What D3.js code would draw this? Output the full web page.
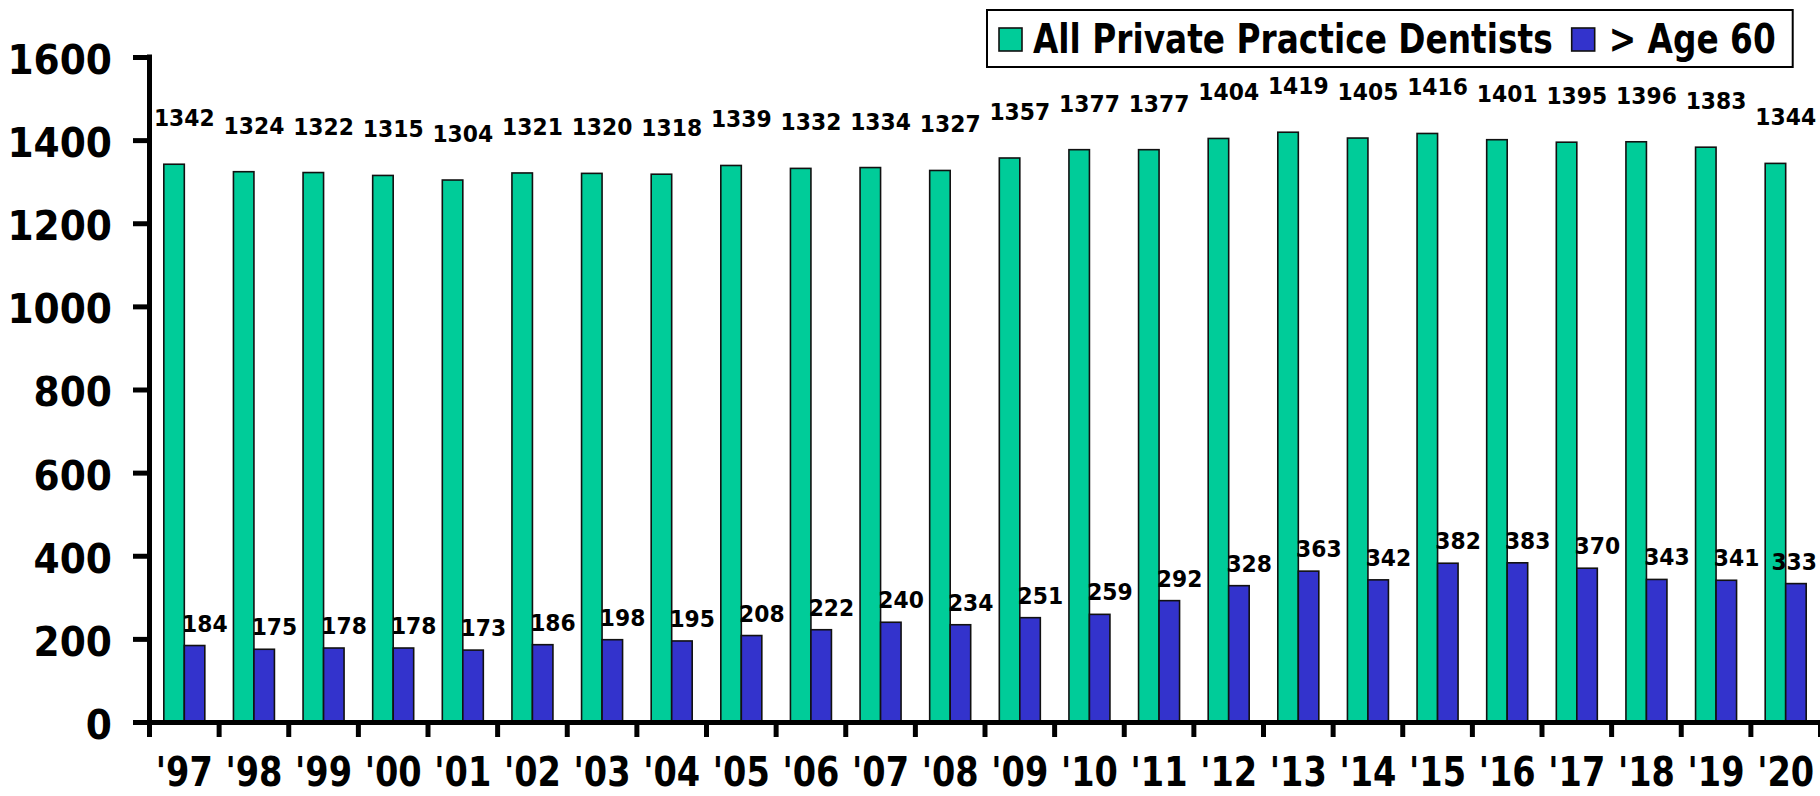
<!DOCTYPE html>
<html>
<head>
<meta charset="utf-8">
<script src="https://d3js.org/d3.v7.min.js"></script>
<style>
    body { margin: 0; background: #fff; }
    svg { display: block; font-family: "DejaVu Sans", Verdana, sans-serif; font-weight: bold; }
</style>
</head>
<body>
<div class="bar-chart"></div>
<script>
var yearLabels = ["'97", "'98", "'99", "'00", "'01", "'02", "'03", "'04", "'05", "'06", "'07", "'08",
    "'09", "'10", "'11", "'12", "'13", "'14", "'15", "'16", "'17", "'18", "'19", "'20"];
var allDentists = [1342, 1324, 1322, 1315, 1304, 1321, 1320, 1318, 1339, 1332, 1334, 1327,
    1357, 1377, 1377, 1404, 1419, 1405, 1416, 1401, 1395, 1396, 1383, 1344];
var over60 = [184, 175, 178, 178, 173, 186, 198, 195, 208, 222, 240, 234,
    251, 259, 292, 328, 363, 342, 382, 383, 370, 343, 341, 333];
var seriesNames = ["All Private Practice Dentists", "> Age 60"];
var seriesColors = ["#00cc99", "#3333cc"];
var yTicks = [0, 200, 400, 600, 800, 1000, 1200, 1400, 1600];

(function() {

    var width = 1820,
        height = 796;

    var data = yearLabels.map(function(yr, i) {
        return {
            year: yr,
            values: [
                { year: yr, series: seriesNames[0], value: allDentists[i] },
                { year: yr, series: seriesNames[1], value: over60[i] }
            ]
        };
    });

    var svg = d3.select(".bar-chart").append("svg")
        .attr("width", width)
        .attr("height", height);

    var x0 = d3.scaleBand()
        .domain(yearLabels)
        .range([149.5, 1820.5]);

    var groupWidth = 41;
    var x1 = d3.scaleBand()
        .domain(seriesNames)
        .range([0, groupWidth]);

    var y = d3.scaleLinear()
        .domain([0, 1600])
        .range([722, 57]);

    var color = d3.scaleOrdinal()
        .domain(seriesNames)
        .range(seriesColors);

    var groupLeft = function(yr) { return x0(yr) + (x0.bandwidth() - groupWidth) / 2; };

    /* bars */
    var slice = svg.selectAll(".slice")
        .data(data)
        .enter().append("g")
        .attr("class", "slice");

    slice.selectAll("rect")
        .data(function(d) { return d.values; })
        .enter().append("rect")
        .attr("x", function(d) { return groupLeft(d.year) + x1(d.series); })
        .attr("y", function(d) { return y(d.value); })
        .attr("width", x1.bandwidth())
        .attr("height", function(d) { return y(0) - y(d.value); })
        .style("fill", function(d) { return color(d.series); })
        .style("stroke", "#111")
        .style("stroke-width", 1.6);

    /* y axis */
    var yAxis = svg.append("g")
        .attr("class", "y axis")
        .attr("transform", "translate(149,0)")
        .call(d3.axisLeft(y).tickValues(yTicks).tickFormat(d3.format("d")).tickSize(16).tickSizeOuter(0));

    yAxis.select(".domain").remove();
    yAxis.selectAll(".tick line").attr("stroke", "#000").attr("stroke-width", 5);
    yAxis.selectAll(".tick text")
        .attr("x", 0)
        .attr("dy", "0.36em")
        .attr("transform", "translate(-37,2) scale(0.94,1)")
        .style("font-size", "40px")
        .style("font-family", "'DejaVu Sans', Verdana, sans-serif")
        .style("font-weight", "bold")
        .style("fill", "#000");

    yAxis.append("line")
        .attr("x1", 0.5).attr("x2", 0.5)
        .attr("y1", y(1600) - 2.5)
        .attr("y2", 737)
        .attr("stroke", "#000")
        .attr("stroke-width", 5);

    /* x axis */
    svg.append("line")
        .attr("x1", 147)
        .attr("x2", width)
        .attr("y1", y(0) + 0.5)
        .attr("y2", y(0) + 0.5)
        .attr("stroke", "#000")
        .attr("stroke-width", 5);

    var bounds = yearLabels.map(function(d) { return x0(d); }).concat([x0.range()[1]]);
    svg.selectAll(".xtick")
        .data(bounds)
        .enter().append("line")
        .attr("class", "xtick")
        .attr("x1", function(d) { return d; })
        .attr("x2", function(d) { return d; })
        .attr("y1", y(0))
        .attr("y2", 737)
        .attr("stroke", "#000")
        .attr("stroke-width", 5);

    svg.selectAll(".xlabel")
        .data(yearLabels)
        .enter().append("text")
        .attr("class", "xlabel")
        .attr("transform", function(d) {
            return "translate(" + (x0(d) + x0.bandwidth() / 2) + ",786) scale(0.84,1)";
        })
        .attr("text-anchor", "middle")
        .style("font-size", "40px")
        .text(function(d) { return d; });

    /* value labels */
    var labelScale = 0.95;
    slice.selectAll(".val")
        .data(function(d) { return d.values; })
        .enter().append("text")
        .attr("class", "val")
        .attr("text-anchor", "middle")
        .style("font-size", "23px")
        .text(function(d) { return d.value; })
        .each(function(d) {
            var half = this.getComputedTextLength() * labelScale / 2;
            var cx, cy;
            if (d.series === seriesNames[0]) {
                cx = groupLeft(d.year) + groupWidth / 2;
                cy = y(d.value) - 38;
            } else {
                cx = groupLeft(d.year) + groupWidth;
                cy = y(d.value) - 14;
            }
            cx = Math.min(cx, width - 3 - half);
            d3.select(this).attr("transform", "translate(" + cx + "," + cy + ") scale(" + labelScale + ",1)");
        });

    /* legend */
    var legendScale = 0.82;
    var legend = svg.append("g").attr("class", "legend");
    var box = legend.append("rect")
        .attr("x", 987)
        .attr("y", 10)
        .attr("height", 57)
        .style("fill", "#fff")
        .style("stroke", "#000")
        .style("stroke-width", 2);

    var cursor = 999;
    seriesNames.forEach(function(name, i) {
        legend.append("rect")
            .attr("x", cursor)
            .attr("y", 28)
            .attr("width", 23)
            .attr("height", 23)
            .style("fill", color(name))
            .style("stroke", "#111")
            .style("stroke-width", 1.6);
        cursor += i === 0 ? 34 : 37;
        var t = legend.append("text")
            .attr("transform", "translate(" + cursor + ",53) scale(" + legendScale + ",1)")
            .style("font-size", "40px")
            .text(name);
        cursor += t.node().getComputedTextLength() * legendScale + 19;
    });
    box.attr("width", cursor - 2 - 987);

})();
</script>
</body>
</html>
